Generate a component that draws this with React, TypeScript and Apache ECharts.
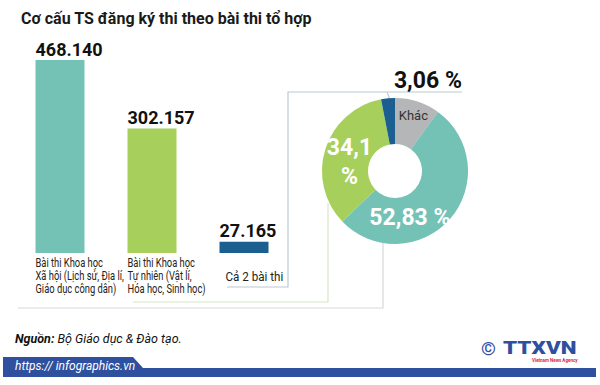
import React, { useEffect, useRef } from "react";
import * as echarts from "echarts";

const title = "Cơ cấu TS đăng ký thi theo bài thi tổ hợp";
const categories = [
  "Bài thi Khoa học\nXã hội (Lịch sử, Địa lí,\nGiáo dục công dân)",
  "Bài thi Khoa học\nTự nhiên (Vật lí,\nHóa học, Sinh học)",
  "Cả 2 bài thi",
];
const counts = [468140, 302157, 27165];
const shareNames = ["Khác", "Khoa học Xã hội", "Khoa học Tự nhiên", "Cả 2 bài thi"];
const shares = [10.01, 52.83, 34.1, 3.06];
const shareLabels = ["Khác", "52,83 %", "34,1\n%", "3,06 %"];
const sourceText = "Bộ Giáo dục & Đào tạo.";
const siteText = "https:// infographics.vn";

const FONT = "Roboto, 'Noto Sans', sans-serif";
const barColors = ["#74c1b5", "#a6d05b", "#1b5e90"];
const pieColors = ["#b4b6b8", "#74c1b5", "#a6d05b", "#1b5e90"];
const BAR_W = 49;

const fmtDot = (v: number) => String(v).replace(/\B(?=(\d{3})+(?!\d))/g, ".");

export default function App() {
  const ref = useRef<HTMLDivElement>(null);
  useEffect(() => {
    if (!ref.current) return;
    const chart = echarts.init(ref.current, undefined, { renderer: "svg" });
    const pieLabelStyles = [
      { color: "#333", fontSize: 13, fontWeight: "normal", offset: [2, -5] },
      { color: "#fff", fontSize: 23, fontWeight: "bold", offset: [-25, 12] },
      { color: "#fff", fontSize: 23, fontWeight: "bold", offset: [5, 7], lineHeight: 29 },
      { color: "#111", fontSize: 23, fontWeight: "bold", offset: [38, -38] },
    ];
    const option: any = {
      animation: false,
      backgroundColor: "#ffffff",
      textStyle: { fontFamily: FONT },
      title: {
        text: title,
        left: 16,
        top: 5,
        textStyle: { fontFamily: FONT, fontSize: 16, fontWeight: "bold", color: "#1a1a1a" },
      },
      grid: { left: 14, width: 276, top: 60, height: 193 },
      xAxis: { type: "category", data: categories, show: false },
      yAxis: { type: "value", min: 0, max: 468140, show: false },
      series: [
        {
          type: "bar",
          barWidth: BAR_W,
          data: counts.map((v, i) => ({ value: v, itemStyle: { color: barColors[i] } })),
          label: {
            show: true,
            position: [0, 0],
            align: "left",
            verticalAlign: "bottom",
            offset: [0, -2],
            formatter: (p: any) => fmtDot(p.value),
            fontFamily: FONT,
            fontSize: 18,
            fontWeight: "bold",
            color: "#111",
          },
        },
        {
          type: "pie",
          center: [395, 171],
          radius: [27, 73],
          startAngle: 90,
          clockwise: true,
          labelLine: { show: false },
          label: {
            show: true,
            position: "inside",
            fontFamily: FONT,
            formatter: (p: any) => shareLabels[p.dataIndex],
          },
          data: shares.map((v, i) => ({
            name: shareNames[i],
            value: v,
            itemStyle: { color: pieColors[i] },
            label: pieLabelStyles[i],
          })),
        },
      ],
    };
    chart.setOption(option);

    // category labels placed under each bar's left edge, positions from the axis scale
    const catTweaks = [
      { dx: 0, dy: 4, s: 0.78 },
      { dx: 0, dy: 4, s: 0.78 },
      { dx: 6, dy: 17, s: 0.97 },
    ];
    const catGraphics = categories.map((c, i) => {
      const [cx, by] = chart.convertToPixel({ gridIndex: 0 } as any, [i, 0]) as number[];
      const t = catTweaks[i];
      return {
        type: "text",
        x: cx - BAR_W / 2 + t.dx,
        y: by + t.dy,
        scaleX: t.s,
        style: {
          text: c,
          fontFamily: FONT,
          fontSize: 12,
          lineHeight: 13,
          fill: "#222",
          align: "left",
          verticalAlign: "top",
        },
      };
    });

    const deco: any[] = [
      {
        type: "polyline",
        z: -1,
        shape: { points: [[227, 287], [288, 287], [288, 92], [462, 92]] },
        style: { stroke: "#b9cad6", lineWidth: 1.2, fill: null },
      },
      {
        type: "line",
        z: -1,
        shape: { x1: 387, y1: 92, x2: 390, y2: 100 },
        style: { stroke: "#b9cad6", lineWidth: 1.2 },
      },
      {
        type: "polyline",
        z: -1,
        shape: { points: [[133, 302], [328, 302], [328, 203]] },
        style: { stroke: "#d6e7c4", lineWidth: 1.2, fill: null },
      },
      {
        type: "polyline",
        z: -1,
        shape: { points: [[18, 308], [383, 308], [383, 242]] },
        style: { stroke: "#d4d8dc", lineWidth: 1.2, fill: null },
      },
      {
        type: "text",
        x: 15,
        y: 332,
        style: {
          text: "{b|Nguồn:} " + sourceText,
          fontFamily: FONT,
          fontSize: 12.5,
          fontStyle: "italic",
          fill: "#111",
          rich: { b: { fontWeight: "bold", fontStyle: "italic", fontSize: 12.5, fontFamily: FONT, fill: "#111" } },
        },
      },
      {
        type: "polygon",
        shape: { points: [[3, 357], [133, 357], [143, 368], [596, 368], [596, 377], [3, 377]] },
        style: { fill: "#2f4f9f" },
      },
      {
        type: "text",
        x: 15,
        y: 360,
        style: { text: siteText, fontFamily: FONT, fontSize: 12, fontStyle: "italic", fill: "#ffffff" },
      },
      {
        type: "text",
        x: 481,
        y: 339,
        style: { text: "©", fontFamily: FONT, fontSize: 19, fontWeight: "bold", fill: "#2f4f9f" },
      },
      {
        type: "text",
        x: 503,
        y: 338,
        scaleX: 1.18,
        style: { text: "TTXVN", fontFamily: FONT, fontSize: 19, fontWeight: 900, fill: "#2f4f9f" },
      },
      {
        type: "text",
        x: 532,
        y: 358,
        style: { text: "Vietnam News Agency", fontFamily: FONT, fontSize: 4.5, fontWeight: "bold", fill: "#d7263d" },
      },
    ];
    chart.setOption({ graphic: [...deco, ...catGraphics] });
    return () => chart.dispose();
  }, []);
  return (
    <div
      ref={ref}
      style={{ position: "absolute", left: 0, top: 0, width: 600, height: 385, background: "#fff" }}
    />
  );
}
